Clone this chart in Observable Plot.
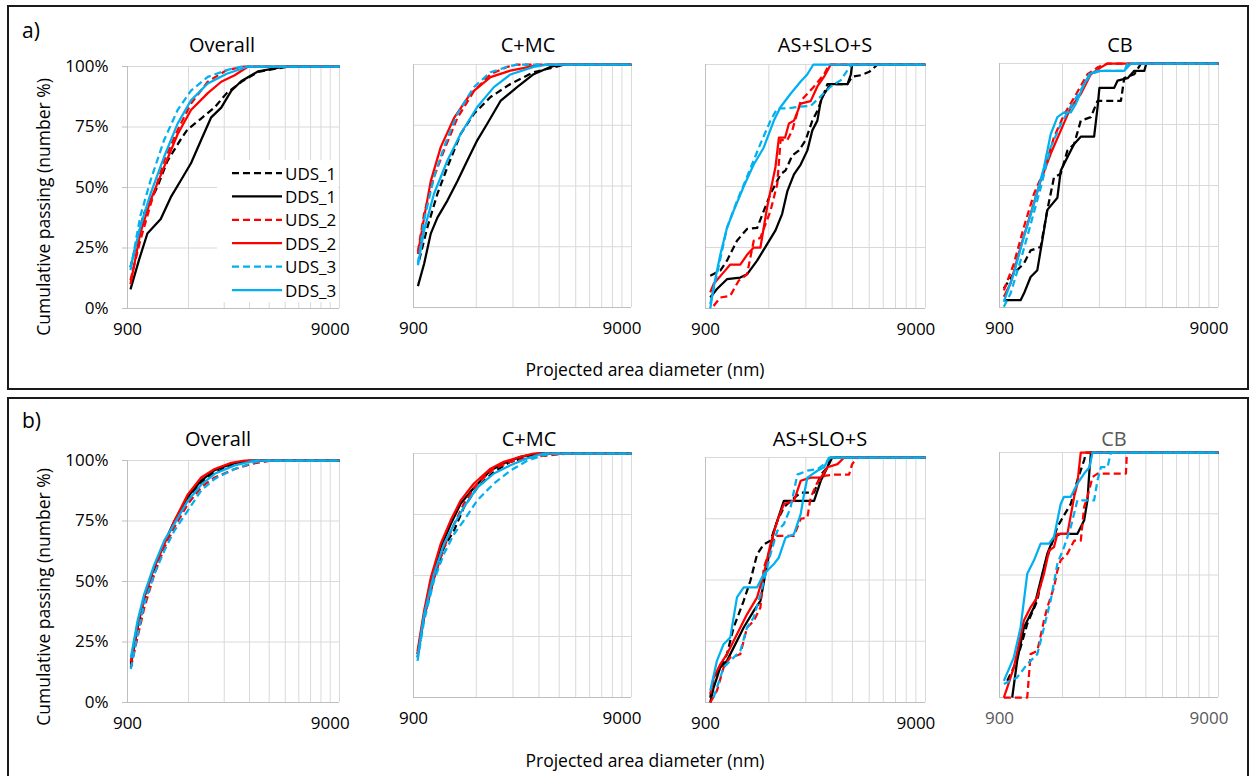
<!DOCTYPE html>
<html><head><meta charset="utf-8">
<script src="https://cdn.jsdelivr.net/npm/d3@7"></script>
<script src="https://cdn.jsdelivr.net/npm/@observablehq/plot@0.6"></script>
<style>
body{margin:0;background:#fff;font-family:"Open Sans",sans-serif;}
#root{position:relative;width:1252px;height:776px;overflow:hidden;background:#fff;}
.box{position:absolute;border:2.5px solid #1a1a1a;box-sizing:border-box;}
.pl{position:absolute;}
</style></head><body><div id="root"></div>
<script>
// ---------- data ----------
const seriesNames = ["UDS_1","DDS_1","UDS_2","DDS_2","UDS_3","DDS_3"];
const panelTitles = ["Overall","C+MC","AS+SLO+S","CB"];
const rowLabels = ["a)","b)"];
const xTicks = [900, 9000];
const xGrid = [1800, 2700, 3600, 4500, 5400, 6300, 7200, 8100, 9000];
const yTicks = [0, 25, 50, 75, 100];
const xTitle = "Projected area diameter (nm)";
const yTitle = "Cumulative passing (number %)";

// a) row — [diameter nm, cumulative %]
const a_overall = {
  UDS_1: [[931,17],[1082,39],[1260,50],[1418,61],[1651,70],[1780,74],[2077,78.5],[2415,83],[2780,89],[3285,93.7],[3975,97.8],[5600,100],[10000,100]],
  DDS_1: [[931,7.9],[1025,20],[1128,31],[1313,37],[1472,46],[1651,53],[1851,60],[2077,69.6],[2329,79],[2610,83],[2929,90],[3285,94],[3975,98],[5400,100],[10000,100]],
  UDS_2: [[931,11.7],[1040,28],[1170,43],[1364,61],[1590,73.7],[1851,84.7],[2240,93.7],[2780,98.5],[3400,100],[10000,100]],
  DDS_2: [[931,10],[1040,31],[1170,44.8],[1364,58.5],[1590,72],[1851,82],[2240,89],[2610,93.7],[3040,96.4],[3545,100],[10000,100]],
  UDS_3: [[931,15.8],[1040,38],[1170,53],[1364,69.6],[1590,82],[1851,90],[2240,95.7],[2780,98.5],[3285,100],[10000,100]],
  DDS_3: [[931,17],[1040,33.7],[1170,47.5],[1364,62.7],[1590,76.4],[1851,86],[2240,93],[2780,97],[3545,100],[10000,100]]
};
const a_cmc = {
  UDS_1: [[958,19.5],[1049,33],[1172,46.8],[1309,57.8],[1516,71.5],[1754,79.7],[2107,86.6],[2625,92],[3393,96.8],[4600,99.6],[4900,100],[10000,100]],
  DDS_1: [[945,8.8],[1012,18],[1089,30.4],[1172,37],[1309,44],[1461,52],[1631,60.5],[1820,68.8],[2032,75.6],[2353,85],[2826,90.7],[3393,96],[4077,99],[4600,100],[10000,100]],
  UDS_2: [[945,23],[1012,38.6],[1129,53.7],[1261,64.7],[1461,78],[1754,89],[2107,96],[2530,99],[2826,100],[10000,100]],
  DDS_2: [[945,22],[1012,37],[1089,52],[1216,66],[1409,78],[1690,88],[2107,94.8],[2625,97.5],[3520,99.6],[4000,100],[10000,100]],
  UDS_3: [[945,18],[1012,36],[1129,53.7],[1261,66],[1461,79.7],[1754,90.7],[2107,96.8],[2530,99],[2826,100],[10000,100]],
  DDS_3: [[945,17.4],[1012,31.8],[1129,46.8],[1309,60.5],[1516,71.5],[1820,82.5],[2187,90.7],[2625,95.9],[3393,99],[4000,100],[10000,100]]
};
const a_asslos = {
  UDS_1: [[948,13.4],[1058,15.5],[1138,19.6],[1270,27.8],[1418,32.6],[1583,33],[1703,40],[1833,47],[2047,55],[2162,56.6],[2326,62.7],[2504,64.8],[2693,69],[2898,77],[3062,81],[3420,92],[4260,92],[4480,95],[4935,95.6],[5406,97],[5920,100],[10000,100]],
  DDS_1: [[948,4.5],[1020,8],[1138,12],[1317,12.7],[1418,14],[1583,19.6],[1767,26.4],[1936,32],[2083,38.8],[2203,48],[2370,55],[2551,59],[2745,64.8],[2898,73],[3062,77],[3178,85],[3297,88],[3546,92],[4260,92],[4419,96],[4480,100],[10000,100]],
  UDS_2: [[983,1],[1058,4.5],[1180,5.2],[1294,11.4],[1418,14],[1526,27.8],[1642,29],[1833,40],[1974,51],[2047,69],[2203,69],[2326,73],[2551,85],[2745,88],[2953,91],[3297,96],[3480,100],[10000,100]],
  DDS_2: [[948,6.6],[983,10],[1097,14.8],[1180,18],[1317,18],[1418,22],[1526,25],[1642,25],[1767,41.5],[1936,58],[2010,70],[2150,70],[2243,75.8],[2370,77],[2551,84],[2845,85],[3062,91],[3297,95],[3546,100],[10000,100]],
  UDS_3: [[948,1.8],[1020,14],[1138,33],[1270,44],[1418,54],[1642,67.5],[1833,77],[1974,82],[2203,82],[2458,82.6],[2845,83],[3178,87],[3546,91],[3960,93.6],[4260,97.7],[4480,100],[10000,100]],
  DDS_3: [[948,0],[983,8.6],[1058,22],[1138,33],[1224,40],[1367,50],[1526,59],[1703,66],[1902,77],[2047,82.6],[2284,88],[2551,93],[2745,96],[2930,100],[10000,100]]
};
const a_cb = {
  UDS_1: [[944,7.8],[1054,14],[1177,18],[1267,23.4],[1415,24.8],[1523,40],[1639,53.4],[1764,54.8],[1899,64.3],[2045,67],[2200,76.6],[2457,78],[2645,84.7],[3420,84.7],[3547,94],[3962,95.6],[4270,100],[10000,100]],
  DDS_1: [[944,3],[1016,3],[1135,3],[1177,5.7],[1267,12.5],[1364,15.3],[1441,27.5],[1523,40],[1701,45],[1764,56],[1899,61.6],[2045,67],[2200,70],[2547,70],[2645,82],[2700,90],[3177,90],[3298,93],[3682,94],[3962,97],[4425,97],[4520,100],[10000,100]],
  UDS_2: [[944,7],[1054,18],[1177,33],[1315,46.6],[1468,56],[1639,69.8],[1830,79],[2045,86],[2367,95.6],[2645,98.4],[2952,100],[10000,100]],
  DDS_2: [[944,4.4],[1016,9.8],[1135,24.8],[1267,38.4],[1415,52],[1580,63],[1764,72.5],[1971,82],[2200,87.5],[2457,95.6],[2745,98.4],[2952,100],[10000,100]],
  UDS_3: [[944,0.3],[1016,5.7],[1135,19.3],[1267,34],[1415,49],[1580,65.7],[1764,75],[1899,80],[2045,84.7],[2282,91.5],[2457,95.6],[2745,97],[3547,97],[3682,100],[10000,100]],
  DDS_3: [[944,2.3],[1054,14],[1177,29],[1315,42.5],[1468,57.5],[1580,71],[1701,78],[1830,80],[1971,80],[2082,83.4],[2241,90],[2413,95.6],[2645,97],[3547,97],[3820,100],[10000,100]]
};

// b) row
const b_overall = {
  UDS_1: [[935,14.5],[1009,29.7],[1088,42],[1220,54.5],[1368,65.5],[1533,73.8],[1786,83.4],[2079,91],[2421,95],[3042,98.3],[3825,100],[10000,100]],
  DDS_1: [[935,16],[1009,31],[1088,43.4],[1220,56],[1368,66],[1533,75],[1786,85],[2079,91.7],[2421,96],[2928,98.6],[3600,100],[10000,100]],
  UDS_2: [[935,14.5],[1009,27],[1088,39],[1220,53],[1368,64],[1533,72.4],[1786,82],[2079,89],[2421,93],[3042,96.5],[3680,98.6],[4624,100],[10000,100]],
  DDS_2: [[935,17],[1009,32],[1088,43.4],[1220,56],[1368,65.5],[1533,75],[1786,86],[2079,93],[2421,96.5],[2928,99],[3411,100],[10000,100]],
  UDS_3: [[935,13.8],[1009,28],[1088,40.7],[1220,53],[1368,62.8],[1533,71],[1786,79.3],[2079,87.6],[2421,92.4],[3042,96.5],[3825,99.3],[4440,100],[10000,100]],
  DDS_3: [[935,18.6],[1009,33.8],[1088,44.8],[1220,57],[1368,67],[1533,73.8],[1786,83.4],[2079,90],[2421,94.5],[3042,98],[3825,100],[10000,100]]
};
const b_cmc = {
  UDS_1: [[941,16.4],[1012,33],[1129,49],[1261,61.6],[1409,68.5],[1571,78],[1820,86],[2187,92.5],[2625,96.6],[3154,98.6],[3650,100],[10000,100]],
  DDS_1: [[941,17.8],[1012,34],[1089,48],[1216,61.6],[1357,71],[1516,79.5],[1754,86],[2107,93],[2440,96],[2930,98.6],[3520,100],[10000,100]],
  UDS_2: [[941,17.8],[1012,33],[1129,49],[1261,61.6],[1409,71],[1571,79.5],[1820,87.7],[2187,93.8],[2625,96.6],[3393,98.6],[4550,99.7],[5270,100],[10000,100]],
  DDS_2: [[941,19],[1012,35.6],[1089,49],[1216,63],[1357,72.6],[1516,80.8],[1754,87.7],[2107,93.8],[2440,96.6],[2930,98.6],[3393,100],[10000,100]],
  UDS_3: [[941,15],[1012,31.5],[1129,48],[1261,59],[1409,67],[1571,72.6],[1820,80.8],[2187,87.7],[2625,93],[3154,97],[3790,99.3],[4230,100],[10000,100]],
  DDS_3: [[941,16.4],[1012,34],[1129,50.7],[1261,63],[1409,71],[1571,78],[1820,86],[2187,91.8],[2625,95.2],[3154,98],[3790,100],[10000,100]]
};
const b_asslos = {
  UDS_1: [[948,2],[983,10],[1058,14.3],[1138,19.7],[1224,30.6],[1367,41.5],[1471,49.7],[1583,60.5],[1703,64.6],[1833,66],[1974,74],[2122,79.6],[2284,82.3],[2551,85.7],[2953,85.7],[3178,93],[3420,96],[3600,100],[10000,100]],
  DDS_1: [[948,0],[983,6],[1058,14.3],[1138,17],[1224,22.4],[1367,30.6],[1526,37.4],[1642,41.5],[1767,56.5],[1902,70],[2122,82.3],[2953,82.3],[3178,90.5],[3420,96],[3546,100],[10000,100]],
  UDS_2: [[948,0],[1020,4.8],[1097,14.3],[1180,18.4],[1317,19.7],[1418,30.6],[1526,33.3],[1642,38.8],[1703,55],[1833,63],[1936,68],[2370,68],[2551,75],[2745,75.5],[2845,83.7],[3062,89.8],[3297,92.5],[3680,93],[4330,93],[4480,97.3],[4756,100],[10000,100]],
  DDS_2: [[948,3.4],[983,10],[1058,15.6],[1138,19.7],[1270,27.9],[1418,36],[1583,42.9],[1703,52.4],[1833,64.6],[1974,74],[2122,81],[2370,82.3],[2551,90.5],[2845,91.8],[3178,91.8],[3420,96],[3817,97.3],[4106,100],[10000,100]],
  UDS_3: [[983,2],[1020,6],[1097,14.3],[1180,17],[1317,21],[1418,30.6],[1526,34.7],[1642,44],[1833,60.5],[1974,70],[2122,72.8],[2284,79.6],[2458,93],[2745,94.6],[3062,95.2],[3297,97.3],[3546,100],[10000,100]],
  DDS_3: [[948,4.8],[1020,17],[1097,23.8],[1180,26.5],[1270,42.9],[1367,47],[1583,47],[1703,52.4],[1902,56.5],[2010,59.2],[2162,67.3],[2370,68.7],[2551,76.9],[2645,85],[2745,91.8],[3062,94.6],[3297,96],[3480,100],[10000,100]]
};
const b_cb = {
  UDS_1: [[980,6.8],[1054,12.3],[1135,20.5],[1221,30],[1364,39.6],[1468,53.2],[1580,61.4],[1701,69.6],[1830,74.4],[1971,79],[2120,88.7],[2283,96.9],[2330,100],[10000,100]],
  DDS_1: [[1035,0],[1093,15],[1177,28.6],[1315,36.8],[1415,47.7],[1523,58.7],[1639,65.5],[1764,66.8],[2120,66.8],[2283,72.3],[2367,80.5],[2420,92.8],[2460,100],[10000,100]],
  UDS_2: [[944,0],[1221,0],[1267,17.7],[1364,19],[1468,31.4],[1523,36.8],[1639,45],[1701,51.8],[1764,56],[1899,58.7],[2045,64],[2200,64],[2283,77.8],[2367,81.9],[2503,90],[2645,91.4],[3615,91.4],[3650,100],[10000,100]],
  DDS_2: [[944,0],[980,4],[1054,12.3],[1177,31.4],[1267,36.8],[1364,41],[1468,50.5],[1552,60],[1639,61.4],[1701,66.8],[1899,66.8],[2045,81.9],[2120,87.3],[2160,94],[2200,100],[10000,100]],
  UDS_3: [[944,5.5],[1093,8.2],[1221,13.6],[1364,17.7],[1468,28.6],[1580,39.6],[1701,54.6],[1830,61.4],[1971,69.6],[2120,80.5],[2547,80.5],[2645,88.7],[2745,94],[2952,94],[3062,100],[10000,100]],
  DDS_3: [[944,6.8],[1054,16.4],[1135,28.6],[1221,50.5],[1315,56],[1415,62.8],[1552,62.8],[1639,65.5],[1764,79],[1830,81.9],[1971,81.9],[2120,87.3],[2283,91.4],[2420,94],[2503,100],[10000,100]]
};

// ---------- styles / layout ----------
const seriesColors = ["#000000","#000000","#FF0000","#FF0000","#00B0F0","#00B0F0"];
const seriesDash = ["7,4", null, "7,4", null, "7,4", null];
const xDomain = [900, 10000];
const gridColor = "#d9d9d9", axisColor = "#bfbfbf";
const FONT = "'Open Sans', sans-serif";

const panels = [
  {data: a_overall, title: 0, row: 0, l:127, r:339, t:66, b:308, yAxis:true, tx:222},
  {data: a_cmc,     title: 1, row: 0, l:413, r:631, t:64, b:307, tx:528},
  {data: a_asslos,  title: 2, row: 0, l:705, r:925, t:64, b:308, tx:825},
  {data: a_cb,      title: 3, row: 0, l:999, r:1218, t:63, b:307, tx:1120},
  {data: b_overall, title: 0, row: 1, l:127, r:339, t:460, b:702, yAxis:true, tx:218},
  {data: b_cmc,     title: 1, row: 1, l:413, r:631, t:453, b:697, tx:529},
  {data: b_asslos,  title: 2, row: 1, l:705, r:925, t:457, b:702, tx:820},
  {data: b_cb,      title: 3, row: 1, l:999, r:1218, t:452, b:697, tx:1114, gray:true}
];

const root = document.getElementById("root");
function addBox(l,t,w,h){
  const d = document.createElement("div");
  d.className = "box";
  Object.assign(d.style, {left:l+"px", top:t+"px", width:w+"px", height:h+"px"});
  root.appendChild(d);
}
addBox(7, 5, 1242, 385);
addBox(7, 397, 1242, 400);

panels.forEach(p => {
  const ml = p.yAxis ? 110 : 20, mr = 20, mt = 10, mb = 45;
  const w = p.r - p.l, h = p.b - p.t;
  const textColor = p.gray ? "#595959" : "#000000";
  const marks = [
    Plot.ruleX(xGrid, {stroke: gridColor, strokeWidth: 1}),
    Plot.ruleX([xDomain[1]], {stroke: gridColor, strokeWidth: 1}),
    Plot.ruleY(yTicks.filter(d => d > 0), {stroke: gridColor, strokeWidth: 1}),
    Plot.ruleX([xDomain[0]], {stroke: axisColor, strokeWidth: 1}),
    Plot.ruleY([0], {stroke: axisColor, strokeWidth: 1}),
    Plot.text(xTicks, {x: d => d, frameAnchor: "bottom", dy: 26, text: d => String(d), fill: textColor, fontSize: 17})
  ];
  if (p.yAxis) {
    marks.push(Plot.axisY(yTicks, {tickSize: 5, tickPadding: 14, tickFormat: d => d + "%", stroke: axisColor, fill: "#000", fontSize: 17, label: null}));
  }
  seriesNames.forEach((s, i) => {
    marks.push(Plot.line(p.data[s], {
      x: d => d[0], y: d => d[1],
      stroke: seriesColors[i], strokeWidth: 2.25,
      strokeDasharray: seriesDash[i] || undefined,
      strokeLinejoin: "round", strokeLinecap: "butt"
    }));
  });
  const svg = Plot.plot({
    width: ml + w + mr, height: mt + h + mb,
    marginLeft: ml, marginRight: mr, marginTop: mt, marginBottom: mb,
    x: {type: "log", domain: xDomain, label: null, axis: null},
    y: p.yAxis ? {domain: [0, 100], label: null} : {domain: [0, 100], label: null, axis: null},
    style: {fontFamily: FONT, fontSize: "17px", background: "transparent", overflow: "visible"},
    marks
  });
  svg.classList.add("pl");
  svg.style.left = (p.l - ml) + "px";
  svg.style.top = (p.t - mt) + "px";
  svg.style.maxWidth = "none";
  root.appendChild(svg);
});

// ---------- text overlay ----------
const ov = d3.select(root).append("svg")
  .attr("width", 1252).attr("height", 776)
  .style("position", "absolute").style("left", "0px").style("top", "0px")
  .style("font-family", FONT);

panels.forEach(p => {
  ov.append("text").attr("x", p.tx).attr("y", p.row === 0 ? 52 : 446)
    .attr("text-anchor", "middle").attr("font-size", 20)
    .attr("fill", p.gray ? "#595959" : "#000")
    .text(panelTitles[p.title]);
});
[38, 428].forEach((y, i) => {
  ov.append("text").attr("x", 22).attr("y", y).attr("font-size", 21).attr("fill", "#000").text(rowLabels[i]);
  ov.append("text").attr("x", 645).attr("y", i === 0 ? 376 : 767).attr("text-anchor", "middle")
    .attr("font-size", 17.5).attr("fill", "#000").text(xTitle);
  const cy = i === 0 ? 207 : 597;
  ov.append("text").attr("transform", `translate(43,${cy}) rotate(-90)`)
    .attr("text-anchor", "middle").attr("dominant-baseline", "central")
    .attr("font-size", 17.5).attr("fill", "#000").text(yTitle);
});

// legend in panel a) Overall
const lg = ov.append("g");
lg.append("rect").attr("x", 217).attr("y", 160).attr("width", 121).attr("height", 142).attr("fill", "#fff");
seriesNames.forEach((s, i) => {
  const y = 173 + i * 23.4;
  lg.append("line").attr("x1", 232).attr("x2", 282).attr("y1", y).attr("y2", y)
    .attr("stroke", seriesColors[i]).attr("stroke-width", 2.25)
    .attr("stroke-dasharray", seriesDash[i]);
  lg.append("text").attr("x", 285).attr("y", y).attr("dominant-baseline", "central")
    .attr("font-size", 17).attr("fill", "#000").text(s);
});
</script></body></html>
